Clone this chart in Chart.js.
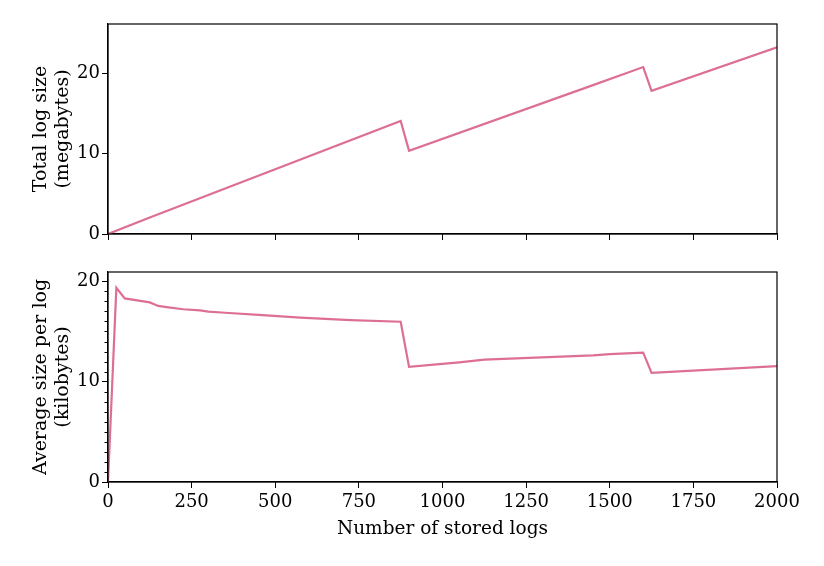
<!DOCTYPE html>
<html lang="en">
<head>
  <meta charset="UTF-8">
  <title>Log size vs number of stored logs</title>
  <script src="https://cdn.jsdelivr.net/npm/chart.js"></script>
  <style>
    html, body { margin: 0; padding: 0; background: #fff; }
    #wrap { position: relative; width: 824px; height: 566px; }
    #wrap canvas { position: absolute; left: 0; }
  </style>
</head>
<body>
  <div id="wrap">
    <canvas id="totalChart" width="824" height="250" style="top:0"></canvas>
    <canvas id="avgChart" width="824" height="316" style="top:250px"></canvas>
  </div>

  <script>
    // values
    const totalLogs = [0, 125, 875, 900, 1450, 1600, 1625, 2000];
    const totalSizeMB = [0, 2.05, 14.05, 10.35, 18.5, 20.75, 17.8, 23.2];

    const avgLogs = [0, 25, 50, 125, 150, 175, 225, 275, 300, 350, 450, 575, 725, 875,
                     900, 1050, 1125, 1450, 1500, 1600, 1625, 2000];
    const avgSizeKB = [0, 19.35, 18.3, 17.9, 17.55, 17.43, 17.22, 17.1, 16.98, 16.87, 16.65, 16.38, 16.13, 15.97,
                       11.47, 11.93, 12.2, 12.63, 12.75, 12.9, 10.87, 11.55];

    const xTicks = [0, 250, 500, 750, 1000, 1250, 1500, 1750, 2000];
    const yTicks = [0, 10, 20];

    const lineColor = '#dd6f97';
    const font = { family: "'DejaVu Serif', serif", size: 18 };
    Chart.defaults.color = '#000';
    Chart.defaults.font = font;

    const toPoints = (xs, ys) => xs.map((x, i) => ({ x: x, y: ys[i] }));

    // matplotlib style box round the plot area, plus optional minor ticks on y
    const framePlugin = {
      id: 'frame',
      afterDraw(chart, args, opts) {
        const a = chart.chartArea, ctx = chart.ctx;
        ctx.save();
        ctx.strokeStyle = '#000';
        if (opts.minor) {
          const ys = chart.scales.y;
          ctx.lineWidth = 1;
          for (let v = 0; v <= ys.max; v += opts.minor) {
            if (v % 10 === 0) continue;
            const py = Math.round(ys.getPixelForValue(v)) + 0.5;
            ctx.beginPath();
            ctx.moveTo(a.left - 3.5, py);
            ctx.lineTo(a.left, py);
            ctx.stroke();
          }
        }
        ctx.lineWidth = 1.2;
        ctx.strokeRect(a.left, a.top, a.right - a.left, a.bottom - a.top);
        ctx.restore();
      }
    };

    function xScale(showLabels, height) {
      return {
        type: 'linear', min: 0, max: 2000,
        afterBuildTicks: s => { s.ticks = xTicks.map(v => ({ value: v })); },
        afterFit: s => { s.height = height; },
        grid: { drawOnChartArea: false, tickLength: 6, tickColor: '#000', tickWidth: 1 },
        border: { color: '#000', width: 1.2 },
        ticks: { display: showLabels, padding: 4, maxRotation: 0, callback: v => String(v) },
        title: {
          display: showLabels, text: 'Number of stored logs',
          font: { family: font.family, size: 18.5 },
          padding: { top: 0, bottom: 26 }
        }
      };
    }

    function yScale(max, title) {
      return {
        type: 'linear', min: 0, max: max,
        afterBuildTicks: s => { s.ticks = yTicks.map(v => ({ value: v })); },
        afterFit: s => { s.width = 108; },
        grid: { drawOnChartArea: false, tickLength: 6, tickColor: '#000', tickWidth: 1 },
        border: { color: '#000', width: 1.2 },
        ticks: { padding: 2, callback: v => String(v) },
        title: {
          display: true, text: title,
          font: { family: font.family, size: 19, lineHeight: 1.15 },
          padding: { top: 30, bottom: 0 }
        }
      };
    }

    function lineDataset(points) {
      return {
        data: points, borderColor: lineColor, borderWidth: 2.2,
        pointRadius: 0, fill: false, tension: 0, showLine: true
      };
    }

    // Total log size
    new Chart(document.getElementById('totalChart'), {
      type: 'scatter',
      data: { datasets: [lineDataset(toPoints(totalLogs, totalSizeMB))] },
      options: {
        responsive: false, animation: false,
        layout: { padding: { top: 24, right: 47, left: 0, bottom: 0 } },
        plugins: { legend: { display: false }, tooltip: { enabled: false }, frame: {} },
        scales: {
          x: xScale(false, 16),
          y: yScale(26.1, ['Total log size', '(megabytes)'])
        }
      },
      plugins: [framePlugin]
    });

    // Average size per log
    new Chart(document.getElementById('avgChart'), {
      type: 'scatter',
      data: { datasets: [lineDataset(toPoints(avgLogs, avgSizeKB))] },
      options: {
        responsive: false, animation: false,
        layout: { padding: { top: 22, right: 47, left: 0, bottom: 0 } },
        plugins: { legend: { display: false }, tooltip: { enabled: false }, frame: { minor: 1 } },
        scales: {
          x: xScale(true, 84),
          y: yScale(20.93, ['Average size per log', '(kilobytes)'])
        }
      },
      plugins: [framePlugin]
    });
  </script>
</body>
</html>
